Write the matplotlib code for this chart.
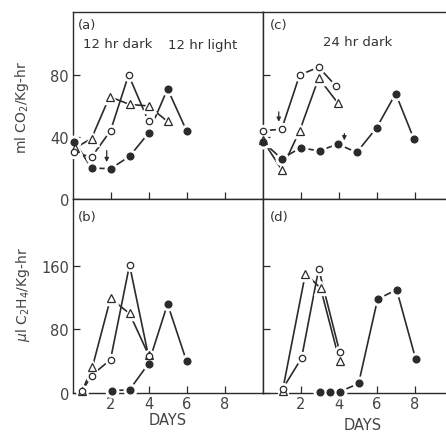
import matplotlib
matplotlib.use('Agg')
import matplotlib.pyplot as plt

# ---- data (days, rate) ----
# (a) CO2, 12 hr dark / 12 hr light
a_open_x = [0.1, 1, 2, 2.95, 4]
a_open_y = [30, 27, 44, 80, 50]
a_tri_x = [0.15, 1, 1.95, 3, 4, 5]
a_tri_y = [33, 39, 66, 61, 60, 50]
a_fill_x = [0.1, 1, 2, 3, 4, 5, 6]
a_fill_y = [37, 20, 19.5, 27.5, 42.5, 71, 44]

# (b) C2H4, 12 hr dark / 12 hr light
b_open_x = [0.5, 1, 2, 3, 4]
b_open_y = [2, 22, 42, 161, 46]
b_tri_x = [0.5, 1.05, 2, 3, 4]
b_tri_y = [2, 33, 119, 100, 48]
b_fill_x = [2.1, 3, 4, 5, 6]
b_fill_y = [3, 4, 37, 112, 40]

# (c) CO2, 24 hr dark
c_open_x = [0, 1, 1.95, 2.95, 3.85]
c_open_y = [44, 45, 80, 85, 73]
c_tri_x = [0, 1, 1.95, 2.95, 3.95]
c_tri_y = [38, 19, 44, 78, 62]
c_fill_x = [0, 1, 2, 3, 3.95, 4.95, 6, 7, 7.95]
c_fill_y = [37, 26, 33, 31, 35.5, 30, 46, 68, 39]

# (d) C2H4, 24 hr dark
d_open_x = [1.05, 2.05, 2.95, 4.05]
d_open_y = [5, 44, 156, 52]
d_tri_x = [1.05, 2.25, 3.05, 4.05]
d_tri_y = [3, 150, 132, 40]
d_fill_x = [3, 3.55, 4.05, 5.05, 6.05, 7.05, 8.05]
d_fill_y = [1, 1, 1.5, 12, 118, 130, 43]

ink = '#2b2b2b'
W, H = 446, 435

fig = plt.figure(figsize=(W / 100, H / 100), dpi=100)


def box(x0, y0, x1, y1):
    # pixel box (top-left origin) -> figure fraction
    return [x0 / W, 1 - y1 / H, (x1 - x0) / W, (y1 - y0) / H]


ax_a = fig.add_axes(box(72.5, 13, 262.6, 200))
ax_b = fig.add_axes(box(72.5, 200, 262.6, 394))
ax_c = fig.add_axes(box(262.6, 13, 452.7, 200))
ax_d = fig.add_axes(box(262.6, 200, 452.7, 394))


def series(ax, x, y, kind):
    ax.plot(x, y, '-', color=ink, lw=1.2, zorder=2, clip_on=False)
    if kind == 'fill':
        ax.plot(x, y, 'o', ms=9, color='white', zorder=3, clip_on=False)
        ax.plot(x, y, 'o', ms=4.8, color=ink, zorder=4, clip_on=False)
    elif kind == 'open':
        ax.plot(x, y, 'o', ms=8.5, color='white', zorder=3, clip_on=False)
        ax.plot(x, y, 'o', ms=4.6, mfc='white', mec=ink, mew=0.9, zorder=4,
                clip_on=False)
    else:
        ax.plot(x, y, '^', ms=9.5, color='white', zorder=3, clip_on=False)
        ax.plot(x, y, '^', ms=5.6, mfc='white', mec=ink, mew=0.9, zorder=4,
                clip_on=False)


def arrow(ax, x, y_top, y_tip):
    ax.annotate('', xy=(x, y_tip), xytext=(x, y_top),
                arrowprops=dict(arrowstyle='-|>', color=ink, lw=0.9,
                                mutation_scale=6), zorder=5)


for ax, ymax, yt in [(ax_a, 120.6, [0, 40, 80]), (ax_b, 244, [0, 80, 160]),
                     (ax_c, 120.6, [0, 40, 80]), (ax_d, 244, [0, 80, 160])]:
    ax.set_xlim(0, 10)
    ax.set_ylim(0, ymax)
    ax.set_xticks([2, 4, 6, 8])
    ax.set_yticks(yt)
    ax.tick_params(direction='in', length=5, width=0.9, color=ink,
                   labelcolor='#444444', labelsize=10.5, pad=2.5)
    for s in ax.spines.values():
        s.set_color(ink)
        s.set_linewidth(1.0)

for ax in (ax_a, ax_c):
    ax.tick_params(labelbottom=False)
for ax in (ax_c, ax_d):
    ax.tick_params(labelleft=False)

series(ax_a, a_tri_x, a_tri_y, 'tri')
series(ax_a, a_open_x, a_open_y, 'open')
series(ax_a, a_fill_x, a_fill_y, 'fill')
arrow(ax_a, 1.8, 33, 22)

series(ax_b, b_tri_x, b_tri_y, 'tri')
series(ax_b, b_open_x, b_open_y, 'open')
series(ax_b, b_fill_x, b_fill_y, 'fill')

series(ax_c, c_tri_x, c_tri_y, 'tri')
series(ax_c, c_open_x, c_open_y, 'open')
series(ax_c, c_fill_x, c_fill_y, 'fill')
arrow(ax_c, 0.85, 58, 48)
arrow(ax_c, 4.3, 44, 36)

series(ax_d, d_tri_x, d_tri_y, 'tri')
series(ax_d, d_open_x, d_open_y, 'open')
series(ax_d, d_fill_x, d_fill_y, 'fill')

# panel letters and captions
txt = dict(color='#333333', fontsize=9.5, transform=fig.transFigure)
fig.text(78 / W, 1 - 25 / H, '(a)', va='center', **txt)
fig.text(83 / W, 1 - 45 / H, '12 hr dark', va='center', **txt)
fig.text(168 / W, 1 - 45 / H, '12 hr light', va='center', **txt)
fig.text(270 / W, 1 - 25 / H, '(c)', va='center', **txt)
fig.text(358 / W, 1 - 43 / H, '24 hr dark', va='center', ha='center', **txt)
fig.text(78 / W, 1 - 217 / H, '(b)', va='center', **txt)
fig.text(270 / W, 1 - 217 / H, '(d)', va='center', **txt)

lab = dict(color='#444444', fontsize=10, rotation=90, ha='center',
           va='center', transform=fig.transFigure)
fig.text(22 / W, 1 - 107 / H, 'ml CO$_2$/Kg-hr', **lab)
fig.text(23 / W, 1 - 295 / H, r'$\mu$l C$_2$H$_4$/Kg-hr', **lab)

fig.text(168 / W, 1 - 421 / H, 'DAYS', color='#444444', fontsize=10.5,
         ha='center', va='center')
fig.text(363 / W, 1 - 426 / H, 'DAYS', color='#444444', fontsize=10.5,
         ha='center', va='center')

fig.savefig('out.png', dpi=100, facecolor='white')
